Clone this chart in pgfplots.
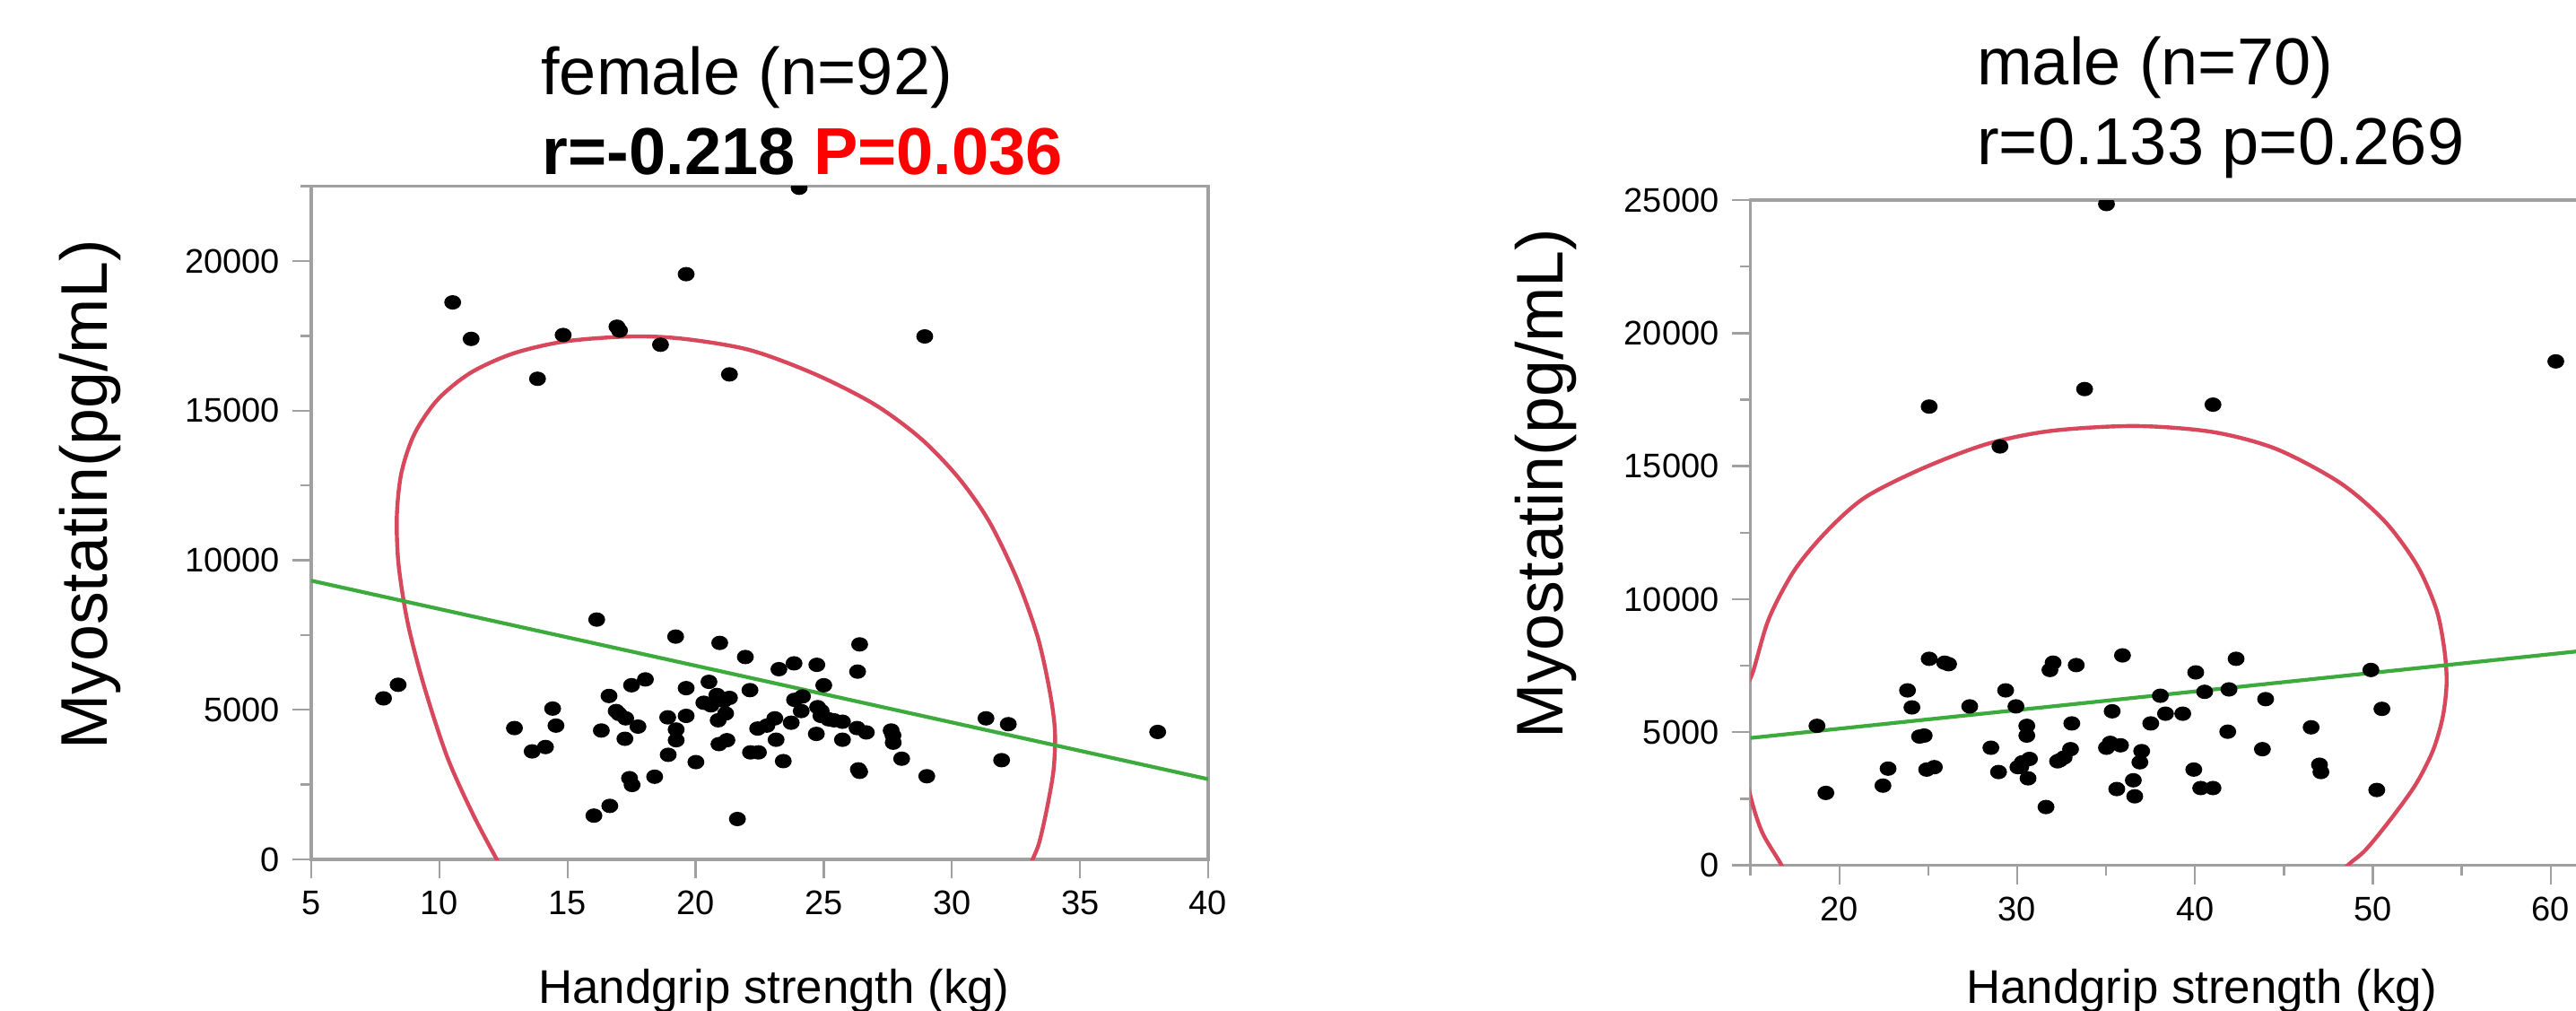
\documentclass[border=0pt]{standalone}
\usepackage{fontspec}
\setmainfont{Liberation Sans}
\usepackage{pgfplots}
\pgfplotsset{compat=1.18}
\definecolor{ellred}{RGB}{216,72,92}
\definecolor{fitgreen}{RGB}{60,170,60}
\definecolor{axgray}{RGB}{160,160,160}

\pgfplotsset{
  jmp/.style={
    scale only axis,
    anchor=north west,
    axis line style={axgray, line width=0.8pt},
    tick style={axgray, line width=0.6pt},
    tick align=outside,
    tick pos=left,
    major tick length=5.25pt,
    minor tick length=2.9pt,
    ticklabel style={font=\fontsize{9.5}{11}\selectfont, text=black},
    /pgf/number format/assume math mode=true,
    /pgf/number format/1000 sep={},
    scaled ticks=false,
    clip marker paths=true,
  },
  dots/.style={only marks, mark=*, mark size=2.15pt,
    mark options={fill=black, draw=none, yscale=0.84}},
}

\begin{document}
\begin{tikzpicture}
% female
\begin{axis}[jmp,
  at={(86.75pt,-51.9pt)},
  width=250pt, height=187.6pt,
  xmin=5, xmax=40, ymin=0, ymax=22500,
  xtick={5,10,...,40},
  ytick={0,5000,...,20000},
  minor ytick={2500,7500,...,22500},
]
\addplot[ellred, line width=1.1pt, smooth] coordinates {
  (12.7,-700) (12.24,0) (11.29,1545) (10.31,3415) (9.41,5772) (8.77,7886)
  (8.41,9837) (8.34,11463) (8.52,12927) (9.03,14228) (9.93,15366)
  (11.21,16260) (12.88,16910) (14.93,17317) (17.50,17480) (19.55,17398)
  (22.12,17024) (24.68,16211) (26.99,15203) (28.79,14065) (30.25,12764)
  (31.45,11301) (32.55,9350) (33.36,7398) (33.82,5610) (34.02,4309)
  (33.97,3008) (33.71,1707) (33.41,569) (33.15,0) (33.0,-300)};
\addplot[fitgreen, line width=1.05pt] coordinates {(5,9317) (40,2683)};
\addplot[dots] coordinates {
  (24.04,22450) (10.52,18618) (11.24,17398) (14.83,17528) (16.93,17805)
  (17.03,17675) (18.63,17203) (19.63,19561) (13.83,16065) (21.32,16211)
  (28.94,17480)
  (7.82,5382) (8.39,5837) (16.14,8016) (19.22,7447) (20.94,7236)
  (26.40,7187) (21.94,6764) (23.25,6358) (23.84,6553) (24.73,6504)
  (26.32,6276) (18.04,6016) (17.50,5821) (19.63,5724) (20.52,5935)
  (22.12,5658) (25.00,5821) (16.62,5463) (20.83,5496) (21.32,5398)
  (20.32,5236) (23.86,5333) (24.12,4959) (24.76,5089) (14.42,5041)
  (21.17,4878) (24.89,4797) (17.01,4862) (17.27,4715) (18.91,4748)
  (19.63,4797) (20.88,4650) (23.09,4715) (23.73,4569) (25.19,4683)
  (25.73,4602) (12.93,4390) (14.55,4472) (16.32,4309) (17.75,4439)
  (19.24,4341) (22.42,4374) (22.78,4472) (26.30,4390) (26.66,4244)
  (27.63,4309) (31.33,4715) (32.20,4520) (38.03,4260) (17.24,4032)
  (19.24,3984) (20.91,3854) (21.22,3984) (23.14,4000) (24.71,4195)
  (25.73,4000) (27.71,3902) (13.62,3610) (14.14,3756) (18.93,3496)
  (22.14,3577) (22.45,3577) (20.01,3252) (23.42,3285) (28.04,3366)
  (31.94,3317) (26.35,3008) (18.40,2764) (29.02,2780) (17.42,2715)
  (17.52,2488) (16.65,1789) (16.03,1463) (21.63,1350) (26.40,2927)
  (24.17,5447) (16.90,4959) (27.70,4146) (24.90,4959) (21.10,5300)
  (25.40,4650) (20.60,5150)};
\end{axis}

% male
\begin{axis}[jmp,
  at={(487.9pt,-55.75pt)},
  width=272.6pt, height=185.4pt,
  xmin=15, xmax=70, ymin=0, ymax=25000,
  xtick={20,30,...,70},
  minor xtick={15,25,...,65},
  ytick={0,5000,...,25000},
  minor ytick={2500,7500,...,22500},
]
\addplot[ellred, line width=1.1pt, smooth] coordinates {
  (17.3,-900) (16.75,0) (15.67,1224) (15.0,2600) (14.3,4900)
  (14.5,6300) (15.13,7250) (16.03,9259) (17.47,11085) (19.28,12546)
  (21.44,13824) (24.69,14920) (28.30,15833) (31.91,16326) (36.61,16509)
  (40.94,16290) (44.55,15651) (48.16,14372) (50.69,12911) (52.49,11268)
  (53.57,9624) (54.01,8163) (54.15,6885) (53.94,5606) (53.39,4328)
  (52.42,3050) (51.05,1772) (49.60,584) (48.59,0) (47.9,-600)};
\addplot[fitgreen, line width=1.05pt] coordinates {(15,4785) (70,8635)};
\addplot[dots] coordinates {
  (35.02,24850) (60.29,18938) (33.79,17897) (41.01,17312) (25.05,17239)
  (29.03,15742)
  (18.74,5241) (19.24,2721) (22.45,2995) (22.74,3634) (23.83,6574)
  (24.08,5935) (24.51,4839) (24.77,4876) (24.91,3598) (25.34,3689)
  (25.05,7761) (25.92,7615) (26.14,7560) (27.33,5972) (28.52,4419)
  (28.95,3506) (29.35,6574) (29.93,5972) (30.04,3689) (30.29,3872)
  (30.54,5241) (30.54,4876) (30.69,3999) (30.61,3269) (31.62,2191)
  (31.84,7341) (32.02,7615) (32.27,3908) (32.64,4054) (33.00,4365)
  (33.07,5333) (33.32,7524) (35.02,4419) (35.23,4602) (35.34,5789)
  (35.81,4511) (35.60,2867) (35.92,7889) (36.53,3196) (36.61,2593)
  (36.90,3872) (37.00,4292) (37.51,5333) (38.05,6373) (38.34,5698)
  (39.31,5698) (39.93,3598) (40.04,7250) (40.32,2904) (40.54,6520)
  (41.01,2904) (41.84,5022) (41.91,6611) (42.31,7761) (43.79,4365)
  (43.97,6246) (46.53,5186) (47.00,3780) (47.08,3506) (49.89,7341)
  (50.22,2831) (50.51,5880) (30.20,3700) (32.40,3950)};
\end{axis}

% titles and axis labels
\node[anchor=base west, inner sep=0pt, font=\fontsize{18.5}{20}\selectfont]
  at (150.65pt,-26.25pt) {female (n=92)};
\node[anchor=base west, inner sep=0pt, font=\fontsize{18.5}{20}\selectfont\bfseries]
  at (151pt,-48.58pt) {r=-0.218 \textcolor{red}{P=0.036}};
\node[anchor=base west, inner sep=0pt, font=\fontsize{18.5}{20}\selectfont]
  at (550.85pt,-23.58pt) {male (n=70)};
\node[anchor=base west, inner sep=0pt, font=\fontsize{18.5}{20}\selectfont]
  at (550.85pt,-45.83pt) {r=0.133 p=0.269};
\node[anchor=base, rotate=90, inner sep=0pt, font=\fontsize{18.4}{20}\selectfont]
  at (30pt,-137.9pt) {Myostatin(pg/mL)};
\node[anchor=base, rotate=90, inner sep=0pt, font=\fontsize{18.4}{20}\selectfont]
  at (435.7pt,-134.75pt) {Myostatin(pg/mL)};
\node[anchor=base, inner sep=0pt, font=\fontsize{13.2}{15}\selectfont]
  at (215.75pt,-279.6pt) {Handgrip strength (kg)};
\node[anchor=base, inner sep=0pt, font=\fontsize{13.2}{15}\selectfont]
  at (613.75pt,-279.6pt) {Handgrip strength (kg)};

\pgfresetboundingbox
\useasboundingbox (0pt,0pt) rectangle (718pt,-281.5pt);
\end{tikzpicture}
\end{document}
